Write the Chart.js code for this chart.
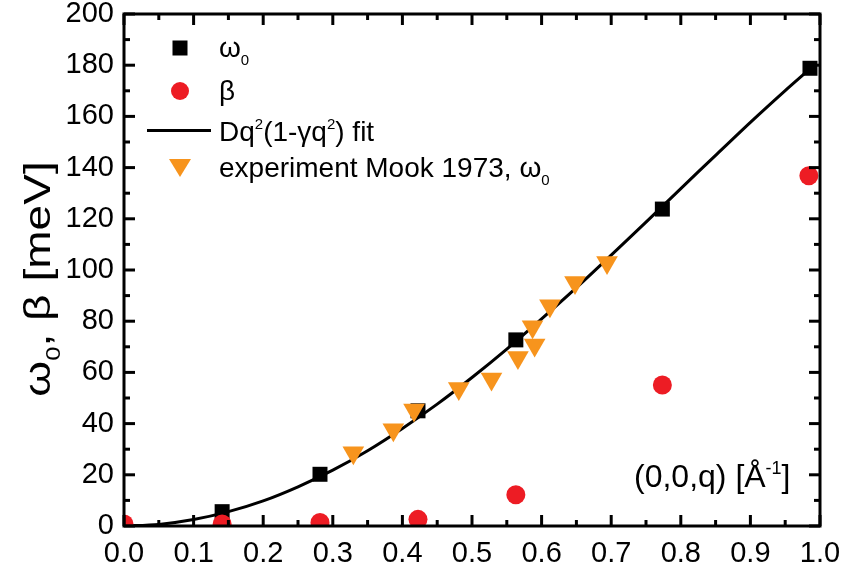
<!DOCTYPE html>
<html>
<head>
<meta charset="utf-8">
<script src="https://cdn.jsdelivr.net/npm/chart.js@4.4.0/dist/chart.umd.min.js"></script>
<style>
  body { margin: 0; background: #fff; }
  #caixa { width: 841px; height: 576px; position: relative; }
</style>
</head>
<body>
<div id="caixa"><canvas id="grafico"></canvas></div>
<script>
// valores
const q_omega = [0.141, 0.2816, 0.4224, 0.563, 0.7735, 0.9856];
const val_omega = [5.6, 20.2, 45.0, 72.7, 123.8, 178.8];

const q_beta = [0.0, 0.141, 0.2816, 0.4224, 0.563, 0.7735, 0.984];
const val_beta = [0.8, 0.8, 1.4, 2.6, 12.2, 55.1, 136.8];

// experimento Mook 1973
const q_mook = [0.3295, 0.387, 0.4167, 0.481, 0.528, 0.566, 0.587, 0.590, 0.612, 0.648, 0.694];
const val_mook = [28.6, 37.6, 45.3, 53.7, 57.4, 65.8, 77.8, 70.7, 86.0, 95.1, 102.9];

// curva do ajuste (lida ponto a ponto)
const q_fit = [0, 0.05, 0.1, 0.15, 0.2, 0.25, 0.3, 0.35, 0.4, 0.45, 0.5, 0.55, 0.6, 0.65, 0.7, 0.75, 0.8, 0.85, 0.9, 0.95, 0.9856];
const val_fit = [0, 0.6, 2.5, 5.6, 9.8, 15.3, 21.8, 29.4, 38.1, 47.6, 58.0, 69.1, 80.9, 93.1, 105.8, 118.7, 131.8, 144.8, 157.7, 170.1, 178.6];

const legenda_textos = ['ω', 'β', 'Dq', 'experiment Mook 1973, '];

const PRETO = '#000000';
const VERMELHO = '#ED1C24';
const LARANJA = '#F7941D';
const FONTE = '"Liberation Sans", Arial, sans-serif';

function pares(xs, ys) {
  let out = [];
  xs.forEach((x, i) => out.push({ x: x, y: ys[i] }));
  return out;
}

// escreve texto com partes normais / sub / sup
function textoRico(ctx, partes, x, y, tam) {
  let cx = x;
  partes.forEach(p => {
    let t = p[0], tipo = p[1];
    if (tipo == 'sub') {
      ctx.font = Math.round(tam * 0.55) + 'px ' + FONTE;
      ctx.fillText(t, cx, y + tam * 0.28);
    } else if (tipo == 'sup') {
      ctx.font = Math.round(tam * 0.55) + 'px ' + FONTE;
      ctx.fillText(t, cx, y - tam * 0.42);
    } else {
      ctx.font = tam + 'px ' + FONTE;
      ctx.fillText(t, cx, y);
    }
    cx += ctx.measureText(t).width;
  });
  return cx - x;
}

function larguraRica(ctx, partes, tam) {
  let w = 0;
  partes.forEach(p => {
    ctx.font = (p[1] == 'n' ? tam : Math.round(tam * 0.55)) + 'px ' + FONTE;
    w += ctx.measureText(p[0]).width;
  });
  return w;
}

// tira o padding automatico das escalas, a area do grafico fica pelo layout.padding
function semPadding(s) {
  s.paddingTop = 0;
  s.paddingBottom = 0;
  s.paddingLeft = 0;
  s.paddingRight = 0;
}

// moldura com ticks para dentro, legenda e titulos
const moldura = {
  id: 'moldura',
  afterDatasetsDraw(chart) {
    const ctx = chart.ctx;
    const a = chart.chartArea;
    const xs = chart.scales.x, ys = chart.scales.y;
    ctx.save();
    ctx.strokeStyle = PRETO;
    ctx.lineWidth = 3;
    ctx.lineCap = 'butt';
    ctx.strokeRect(a.left, a.top, a.right - a.left, a.bottom - a.top);

    function traco(x1, y1, x2, y2) {
      ctx.beginPath(); ctx.moveTo(x1, y1); ctx.lineTo(x2, y2); ctx.stroke();
    }
    // ticks do eixo x (maiores e menores)
    const tx = xs.ticks.map(t => t.value);
    tx.forEach((v, i) => {
      let px = xs.getPixelForValue(v);
      traco(px, a.bottom, px, a.bottom - 11);
      traco(px, a.top, px, a.top + 11);
      if (i < tx.length - 1) {
        let pm = xs.getPixelForValue((v + tx[i + 1]) / 2);
        traco(pm, a.bottom, pm, a.bottom - 6);
        traco(pm, a.top, pm, a.top + 6);
      }
    });
    const ty = ys.ticks.map(t => t.value);
    ty.forEach((v, i) => {
      let py = ys.getPixelForValue(v);
      traco(a.left, py, a.left + 11, py);
      traco(a.right, py, a.right - 11, py);
      if (i < ty.length - 1) {
        let pm = ys.getPixelForValue((v + ty[i + 1]) / 2);
        traco(a.left, pm, a.left + 6, pm);
        traco(a.right, pm, a.right - 6, pm);
      }
    });

    // legenda
    ctx.fillStyle = PRETO;
    ctx.fillRect(180 - 7.5, 48 - 7.5, 15, 15);
    ctx.fillStyle = VERMELHO;
    ctx.beginPath(); ctx.arc(180, 91, 9, 0, Math.PI * 2); ctx.fill();
    ctx.strokeStyle = PRETO;
    ctx.lineWidth = 3;
    traco(147, 130.5, 211, 130.5);
    ctx.fillStyle = LARANJA;
    ctx.beginPath();
    ctx.moveTo(169, 159); ctx.lineTo(191, 159); ctx.lineTo(180, 177); ctx.closePath();
    ctx.fill();

    ctx.fillStyle = PRETO;
    ctx.textBaseline = 'alphabetic';
    ctx.textAlign = 'left';
    const tl = 28;
    textoRico(ctx, [[legenda_textos[0], 'n'], ['0', 'sub']], 219, 57, tl);
    textoRico(ctx, [[legenda_textos[1], 'n']], 219, 100, tl);
    textoRico(ctx, [[legenda_textos[2], 'n'], ['2', 'sup'], ['(1-γq', 'n'], ['2', 'sup'], [') fit', 'n']], 219, 141, tl);
    textoRico(ctx, [[legenda_textos[3], 'n'], ['ω', 'n'], ['0', 'sub']], 219, 177, tl);

    // rotulo do eixo x, dentro do grafico
    textoRico(ctx, [['(0,0,q) [Å', 'n'], ['-1', 'sup'], [']', 'n']], 634, 487, 32);

    // titulo do eixo y, girado e um pouco esticado
    const ty_partes = [['ω', 'n'], ['0', 'sub'], [', β [meV]', 'n']];
    const tam_y = 36;
    const estica = 1.28;
    const w = larguraRica(ctx, ty_partes, tam_y);
    ctx.translate(50, 279);
    ctx.rotate(-Math.PI / 2);
    ctx.scale(estica, 1);
    textoRico(ctx, ty_partes, -w / 2, 0, tam_y);
    ctx.restore();
  }
};

const ctx = document.getElementById('grafico');
const grafico = new Chart(ctx, {
  type: 'scatter',
  data: {
    datasets: [
      {
        label: 'experiment Mook 1973',
        data: pares(q_mook, val_mook),
        pointStyle: 'triangle',
        rotation: 180,
        pointRadius: 12.5,
        backgroundColor: LARANJA,
        borderColor: LARANJA,
        borderWidth: 0,
        clip: 0,
        order: 1
      },
      {
        label: 'beta',
        data: pares(q_beta, val_beta),
        pointStyle: 'circle',
        pointRadius: 9.5,
        backgroundColor: VERMELHO,
        borderColor: VERMELHO,
        borderWidth: 0,
        clip: 0,
        order: 2
      },
      {
        label: 'omega0',
        data: pares(q_omega, val_omega),
        pointStyle: 'rect',
        pointRadius: 10.6,
        backgroundColor: PRETO,
        borderColor: PRETO,
        borderWidth: 0,
        clip: 0,
        order: 3
      },
      {
        label: 'fit',
        data: pares(q_fit, val_fit),
        showLine: true,
        pointRadius: 0,
        borderColor: PRETO,
        borderWidth: 3,
        tension: 0.3,
        fill: false,
        clip: 0,
        order: 4
      }
    ]
  },
  options: {
    responsive: true,
    maintainAspectRatio: false,
    animation: false,
    events: [],
    layout: { padding: { left: 0, right: 21, top: 14, bottom: 0 } },
    plugins: { legend: { display: false }, tooltip: { enabled: false } },
    scales: {
      x: {
        type: 'linear',
        min: 0,
        max: 1,
        grid: { display: false, drawTicks: false },
        border: { display: false },
        ticks: {
          stepSize: 0.1,
          padding: 11,
          color: PRETO,
          font: { family: FONTE, size: 29 },
          maxRotation: 0,
          callback: v => v.toFixed(1)
        },
        afterFit: s => { s.height = 50; semPadding(s); }
      },
      y: {
        type: 'linear',
        min: 0,
        max: 200,
        grid: { display: false, drawTicks: false },
        border: { display: false },
        ticks: {
          stepSize: 20,
          padding: 10,
          color: PRETO,
          font: { family: FONTE, size: 29 }
        },
        afterFit: s => { s.width = 124; semPadding(s); }
      }
    }
  },
  plugins: [moldura]
});
</script>
</body>
</html>
